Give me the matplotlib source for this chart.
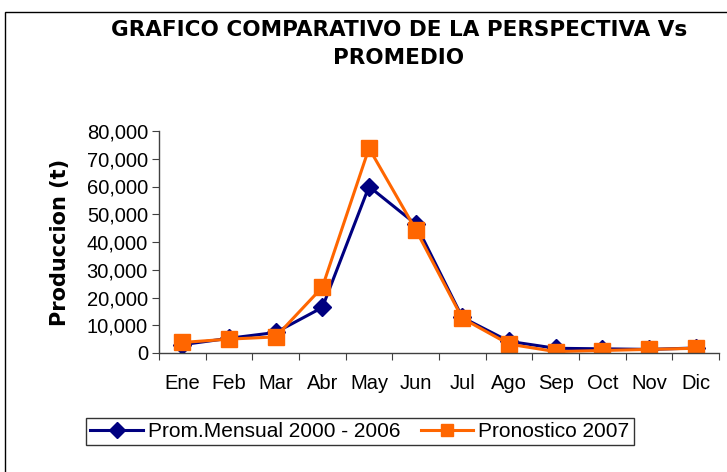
import matplotlib
matplotlib.use('Agg')
import matplotlib.pyplot as plt
from matplotlib.patches import Rectangle
from matplotlib.ticker import FuncFormatter
import numpy as np

#########
months = ['Ene', 'Feb', 'Mar', 'Abr', 'May', 'Jun', 'Jul', 'Ago', 'Sep', 'Oct', 'Nov', 'Dic']
prom_mensual = [3000, 5300, 7400, 16400, 60000, 46500, 12800, 4200, 1700, 1500, 1300, 1800]
pronostico = [3800, 5000, 5800, 23700, 73800, 44500, 12500, 3200, 500, 900, 1300, 1700]
yticks = [0, 10000, 20000, 30000, 40000, 50000, 60000, 70000, 80000]

#########
W, H = 727, 472
fig = plt.figure(figsize=(W / 100, H / 100), dpi=100)
fig.patch.set_facecolor('white')

# chart border (cut off at right and bottom like the original)
fig.patches.append(Rectangle((5 / W, -0.1), 1.2, (H - 12) / H + 0.1, transform=fig.transFigure,
                             fill=False, edgecolor='black', linewidth=1.0))

ax = fig.add_axes([159 / W, (H - 353) / H, 560 / W, 222 / H])

x = np.arange(len(months))
ax.plot(x, prom_mensual, color='#000080', lw=2.2, marker='D', ms=9, label='Prom.Mensual 2000 - 2006')
ax.plot(x, pronostico, color='#FF6600', lw=2.2, marker='s', ms=11, label='Pronostico 2007')

ax.set_xlim(-0.5, len(months) - 0.5)
ax.set_ylim(0, 80000)
ax.set_yticks(yticks)
ax.yaxis.set_major_formatter(FuncFormatter(lambda v, p: '{:,.0f}'.format(v)))
ax.set_xticks(np.arange(-0.5, len(months), 1.0), minor=False)
ax.set_xticklabels([])
ax.set_xticks(x, minor=True)
ax.set_xticklabels(months, minor=True, fontsize=14.5, family='Liberation Sans')
ax.tick_params(axis='x', which='minor', length=0, pad=15)
ax.tick_params(axis='x', which='major', length=5, color='#404040')
ax.tick_params(axis='y', length=5, color='#404040', labelsize=14.5, pad=3)
for lab in ax.get_yticklabels():
    lab.set_family('Liberation Sans')

for s in ['top', 'right']:
    ax.spines[s].set_visible(False)
for s in ['left', 'bottom']:
    ax.spines[s].set_color('#404040')
    ax.spines[s].set_linewidth(1.0)

ax.set_ylabel('Produccion (t)', fontsize=15, fontweight='bold', labelpad=12)

fig.text(399 / W, 1 - 44 / H, 'GRAFICO COMPARATIVO DE LA PERSPECTIVA Vs\nPROMEDIO',
         ha='center', va='center', fontsize=15.5, fontweight='bold', linespacing=1.5)

leg = fig.legend(loc='center', bbox_to_anchor=(360 / W, 1 - 431.5 / H), ncol=2,
                 prop={'family': 'Liberation Sans', 'size': 15}, frameon=True, fancybox=False,
                 edgecolor='black', handlelength=2.5, columnspacing=1.0, handletextpad=0.25,
                 borderpad=0.2, borderaxespad=0, markerscale=0.85)
leg.get_frame().set_linewidth(1.0)

fig.savefig('out.png', dpi=100)
